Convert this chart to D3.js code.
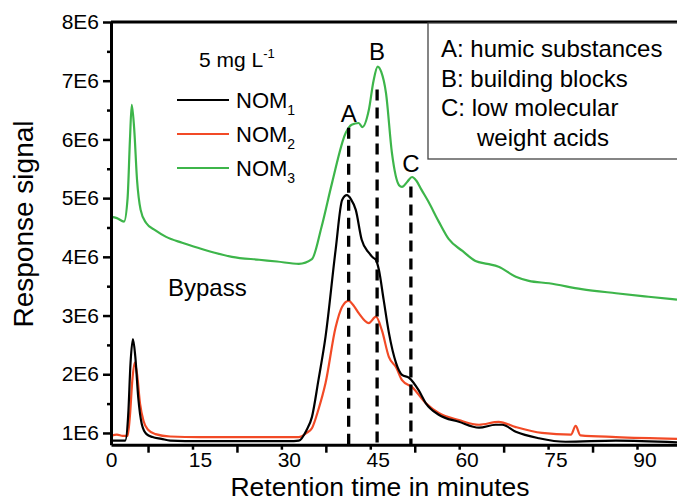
<!DOCTYPE html>
<html>
<head>
    <style>
        body { margin: 0; background: #fff; }
        svg { font-family: "Liberation Sans", Arial, sans-serif; }
        .axis path, .axis line { stroke: #000; }
        .axis text { font-size: 21px; fill: #000; }
    </style>
    <script src="https://d3js.org/d3.v7.min.js"></script>
</head>
<body>
    <svg width="677" height="502"></svg>
    <script>
        // retention time (min) and response signal (counts)
        var nom1Time = [0, 2.4, 2.9, 3.3, 3.7, 4.1, 4.6, 5.2, 6, 7, 8.5, 10, 15, 20, 25, 30, 31.7, 33, 33.9, 35, 36.2, 37.9, 39, 39.8, 40.5, 41.3, 42.3, 43.5, 44.3, 44.7, 45.2, 46, 46.9, 48.1, 49.1, 50.3, 51.9, 53.1, 55.3, 58.7, 62.1, 64.9, 66, 68.3, 72.2, 76.7, 85.2, 95.5];
        var nom1Value = [0.87, 0.87, 1.3, 2.2, 2.6, 2.3, 1.6, 1.15, 0.98, 0.93, 0.9, 0.87, 0.86, 0.86, 0.86, 0.86, 0.87, 1.05, 1.27, 1.9, 2.64, 4.12, 4.97, 5.05, 4.98, 4.8, 4.29, 4.07, 3.98, 3.95, 3.78, 3.27, 2.7, 2.19, 1.99, 1.94, 1.73, 1.51, 1.31, 1.19, 1.09, 1.14, 1.14, 1.02, 0.91, 0.85, 0.87, 0.84];

        var nom2Time = [0, 1, 2, 2.8, 3.2, 3.6, 4.0, 4.4, 4.9, 5.5, 6.3, 7.5, 10, 15, 20, 25, 30, 31.7, 33, 33.9, 35, 36.2, 37.9, 39, 40.1, 41, 41.8, 43.5, 44.7, 45.7, 46.9, 48.1, 49.1, 50.8, 53.1, 55.3, 58.7, 62.1, 65.4, 68.3, 72.7, 77.6, 78.4, 79.2, 85.2, 95.5];
        var nom2Value = [0.95, 0.97, 0.95, 0.95, 1.3, 1.9, 2.2, 2.0, 1.5, 1.2, 1.05, 0.98, 0.94, 0.93, 0.93, 0.93, 0.93, 0.93, 1.0, 1.08, 1.4, 1.85, 2.8, 3.15, 3.25, 3.16, 3.04, 2.87, 2.98, 2.75, 2.29, 2.12, 1.9, 1.78, 1.51, 1.34, 1.22, 1.14, 1.19, 1.1, 1.0, 0.97, 1.12, 0.96, 0.93, 0.9];

        var nom3Time = [0, 1, 2.2, 2.8, 3.2, 3.5, 3.9, 4.4, 5.0, 5.9, 7.5, 9.3, 12, 14.8, 17.5, 20.4, 25, 28, 31.7, 33.9, 35.5, 37.3, 39.6, 40.6, 41.8, 42.4, 43.5, 44.3, 45.0, 45.6, 46.4, 47.4, 48.6, 49.1, 50, 50.8, 51.5, 52.4, 53.5, 55.3, 57, 59.3, 61.5, 63.5, 65.4, 68.3, 70.5, 73.9, 79.4, 85.2, 90.7, 95.5];
        var nom3Value = [4.68, 4.66, 4.6, 5.0, 6.0, 6.59, 6.2, 5.3, 4.8, 4.58, 4.45, 4.34, 4.24, 4.15, 4.07, 4.0, 3.95, 3.92, 3.88, 3.96, 4.5, 5.26, 6.11, 6.25, 6.28, 6.21, 6.5, 7.0, 7.24, 7.15, 6.79, 5.77, 5.22, 5.19, 5.28, 5.36, 5.3, 5.14, 4.95, 4.6, 4.3, 4.1, 3.93, 3.88, 3.83, 3.66, 3.59, 3.55, 3.45, 3.38, 3.32, 3.27];

        var seriesNames = ["NOM1", "NOM2", "NOM3"];
        var seriesColors = ["#000000", "#f24a26", "#3db54a"];

        // fraction markers A, B, C
        var peakLabels = ["A", "B", "C"];
        var peakTime = [40.1, 44.9, 50.6];
        var peakTop = [6.2, 6.85, 5.2];
        var peakLabelValue = [6.3, 7.35, 5.45];
        var fractionNotes = ["A: humic substances", "B: building blocks", "C: low molecular", "weight acids"];

        var xLabelTicks = [0, 15, 30, 45, 60, 75, 90];
        var xLongTicks = [6.25, 21.25, 36.25, 51.25, 66.25, 81.25];
        var xShortTicks = [13.75, 28.75, 43.75, 58.75, 73.75, 88.75];
        var yMajorTicks = [1, 2, 3, 4, 5, 6, 7, 8];
        var yMinorTicks = [1.5, 2.5, 3.5, 4.5, 5.5, 6.5, 7.5];

        var svg = d3.select("svg");
        var x = d3.scaleLinear().domain([0, 95.5]).range([111, 677]);
        var y = d3.scaleLinear().domain([0.8, 8]).range([444.7, 22]);

        // top frame line
        svg.append("line").attr("x1", 111).attr("x2", 677).attr("y1", y(8)).attr("y2", y(8))
            .attr("stroke", "#000").attr("stroke-width", 3);

        // curves
        var line = d3.line().x(function(d){ return x(d[0]); }).y(function(d){ return y(d[1]); }).curve(d3.curveMonotoneX);
        var times = [nom1Time, nom2Time, nom3Time];
        var values = [nom1Value, nom2Value, nom3Value];
        [2, 1, 0].forEach(function(i) {
            var pts = times[i].map(function(t, j){ return [t, values[i][j]]; });
            svg.append("path").attr("d", line(pts)).attr("fill", "none")
                .attr("stroke", seriesColors[i]).attr("stroke-width", 2.2);
        });

        // dashed fraction lines
        peakTime.forEach(function(t, i) {
            svg.append("line").attr("x1", x(t)).attr("x2", x(t)).attr("y1", y(peakTop[i])).attr("y2", y(0.8))
                .attr("stroke", "#000").attr("stroke-width", 3.3).attr("stroke-dasharray", "11,7");
            svg.append("text").attr("x", x(t)).attr("y", y(peakLabelValue[i]))
                .attr("text-anchor", "middle").attr("font-size", 24).text(peakLabels[i]);
        });

        // x axis
        var xg = svg.append("g").attr("class", "axis").attr("transform", "translate(0," + y(0.8) + ")");
        xg.call(d3.axisBottom(x).tickValues(xLongTicks).tickSize(8).tickSizeOuter(0).tickFormat(""));
        xg.select(".domain").attr("stroke-width", 3);
        xg.selectAll(".tick line").attr("stroke-width", 2.5);
        var xs = svg.append("g").attr("class", "axis").attr("transform", "translate(0," + y(0.8) + ")");
        xs.call(d3.axisBottom(x).tickValues(xShortTicks).tickSize(5).tickFormat(""));
        xs.select(".domain").remove();
        xs.selectAll(".tick line").attr("stroke-width", 2.5);
        var xl = svg.append("g").attr("class", "axis").attr("transform", "translate(0," + y(0.8) + ")");
        xl.call(d3.axisBottom(x).tickValues(xLabelTicks).tickSize(0).tickPadding(7).tickFormat(d3.format("d")));
        xl.select(".domain").remove();

        // y axis
        var yg = svg.append("g").attr("class", "axis").attr("transform", "translate(" + x(0) + ",0)");
        yg.call(d3.axisLeft(y).tickValues(yMajorTicks).tickSize(8).tickSizeOuter(0).tickPadding(4)
            .tickFormat(function(d){ return d + "E6"; }));
        yg.select(".domain").attr("stroke-width", 3);
        yg.selectAll(".tick line").attr("stroke-width", 2.5);
        yg.selectAll("text").attr("font-size", 23);
        var ym = svg.append("g").attr("class", "axis").attr("transform", "translate(" + x(0) + ",0)");
        ym.call(d3.axisLeft(y).tickValues(yMinorTicks).tickSize(4).tickFormat(""));
        ym.select(".domain").remove();
        ym.selectAll(".tick line").attr("stroke-width", 2.5);

        // axis titles
        svg.append("text").attr("x", 380).attr("y", 496).attr("text-anchor", "middle")
            .attr("font-size", 26.5).text("Retention time in minutes");
        svg.append("text").attr("transform", "translate(33,224) rotate(-90)").attr("text-anchor", "middle")
            .attr("font-size", 28).text("Response signal");

        // legend
        var lg = svg.append("g").attr("transform", "translate(177,0)");
        var conc = lg.append("text").attr("x", 22).attr("y", 67).attr("font-size", 21);
        conc.append("tspan").text("5 mg L");
        conc.append("tspan").attr("font-size", 13).attr("dy", -9).text("-1");
        seriesNames.forEach(function(name, i) {
            var ly = 100 + i * 34;
            lg.append("line").attr("x1", 0).attr("x2", 52).attr("y1", ly).attr("y2", ly)
                .attr("stroke", seriesColors[i]).attr("stroke-width", 2.2);
            var t = lg.append("text").attr("x", 59).attr("y", ly + 8).attr("font-size", 22);
            t.append("tspan").text(name.slice(0, 3));
            t.append("tspan").attr("font-size", 14).attr("dy", 7).text(name.slice(3));
        });

        // Bypass note
        svg.append("text").attr("x", 168).attr("y", 296).attr("font-size", 24).text("Bypass");

        // fraction legend box
        svg.append("rect").attr("x", 428).attr("y", 23).attr("width", 260).attr("height", 136)
            .attr("fill", "#fff").attr("stroke", "#444").attr("stroke-width", 1.3);
        fractionNotes.forEach(function(s, i) {
            svg.append("text").attr("x", i === 3 ? 477 : 441).attr("y", 57 + i * 29.6)
                .attr("font-size", 24).text(s);
        });
    </script>
</body>
</html>
